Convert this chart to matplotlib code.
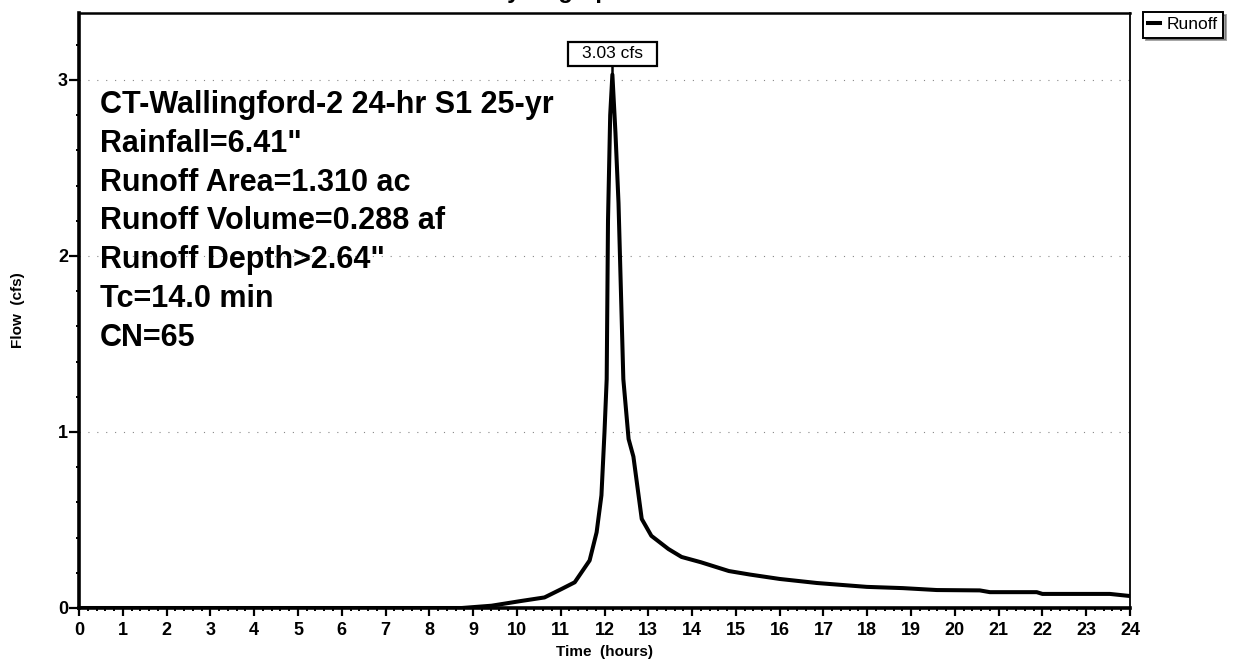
import numpy as np
import matplotlib.pyplot as plt
from matplotlib.ticker import MultipleLocator
from matplotlib.patches import Rectangle

# Runoff hydrograph values (hours, cfs)
time_hr = [0, 8.74, 9.42, 10.1, 10.63, 11.02, 11.32, 11.66, 11.82, 11.93, 12.0,
           12.05, 12.08, 12.13, 12.18, 12.25, 12.32, 12.43, 12.55, 12.66, 12.85,
           13.07, 13.46, 13.76, 14.2, 14.84, 15.32, 16.0, 16.85, 17.99, 18.81,
           19.59, 20.57, 20.8, 21.87, 22.0, 23.54, 24.0]
flow_cfs = [0, 0, 0.013, 0.04, 0.06, 0.108, 0.146, 0.27, 0.43, 0.64, 1.0,
            1.3, 2.2, 2.8, 3.03, 2.7, 2.3, 1.3, 0.96, 0.86, 0.506,
            0.41, 0.335, 0.29, 0.26, 0.21, 0.19, 0.165, 0.142, 0.12, 0.113,
            0.102, 0.10, 0.09, 0.09, 0.08, 0.08, 0.068]

peak_label = "3.03 cfs"
info_lines = [
    "CT-Wallingford-2 24-hr S1 25-yr",
    "Rainfall=6.41\"",
    "Runoff Area=1.310 ac",
    "Runoff Volume=0.288 af",
    "Runoff Depth>2.64\"",
    "Tc=14.0 min",
    "CN=65",
]
x_ticks = list(range(0, 25))
y_ticks = [0, 1, 2, 3]

plt.rcParams['font.family'] = ['Liberation Sans', 'DejaVu Sans']

W, H = 1257, 667
fig = plt.figure(figsize=(W / 100, H / 100), dpi=100)
# axes box in pixels of the scan: left 79, right 1130, top 13, bottom 608
ax = fig.add_axes([79 / W, 1 - 608 / H, (1130 - 79) / W, (608 - 13) / H])

# faint dotted grid like the scan
for yv in y_ticks[1:]:
    ax.axhline(yv, color='#888888', lw=0.8, ls=(0, (1, 7)), zorder=0)

ax.plot(time_hr, flow_cfs, color='black', lw=2.9, label='Runoff', zorder=3)

ax.set_xlim(0, 24)
ax.set_ylim(0, 3.38)
ax.set_xticks(x_ticks)
ax.set_yticks(y_ticks)
ax.xaxis.set_minor_locator(MultipleLocator(0.2))
ax.yaxis.set_minor_locator(MultipleLocator(0.2))
ax.tick_params(axis='x', which='major', direction='out', length=6, width=1.6,
               labelsize=13, pad=4)
ax.tick_params(axis='y', which='major', direction='out', length=7, width=1.6,
               labelsize=13, pad=1)
ax.tick_params(axis='both', which='minor', direction='out', length=2.5, width=1.4)
for lab in ax.get_xticklabels() + ax.get_yticklabels():
    lab.set_fontweight('bold')

ax.spines['left'].set_linewidth(2.6)
ax.spines['bottom'].set_linewidth(2.6)
ax.spines['top'].set_linewidth(1.8)
ax.spines['right'].set_linewidth(1.3)

ax.set_xlabel("Time  (hours)", fontsize=11, fontweight='bold', labelpad=0)
ax.xaxis.set_label_coords((604 - 79) / (1130 - 79), -(652 - 608) / (608 - 13))
ax.xaxis.label.set_va('center')
ax.set_ylabel("Flow  (cfs)", fontsize=11, fontweight='bold')
ax.yaxis.set_label_coords(-(79 - 18) / (1130 - 79), 0.5)
ax.yaxis.label.set_va('center')

# storm info block, one line every ~38.8 px starting at y=113 (baseline)
for i, line in enumerate(info_lines):
    base_px = 113 + 38.8 * i
    fig.text(100 / W, 1 - base_px / H, line, fontsize=22, fontweight='bold',
             ha='left', va='baseline', zorder=4)

# peak label: boxed text above the peak, joined by a short line
ipk = int(np.argmax(flow_cfs))
label_y = (608 - 54) / 176.0
ax.text(time_hr[ipk], label_y, peak_label, ha='center', va='center',
        fontsize=12.5, zorder=6)
px_per_hr = (1130 - 79) / 24.0
box_w = 89 / px_per_hr
box_h = 24 / 176.0
ax.add_patch(Rectangle((time_hr[ipk] - box_w / 2, label_y - box_h / 2), box_w, box_h,
                       fc='white', ec='black', lw=1.6, zorder=5, clip_on=False))
ax.plot([time_hr[ipk], time_hr[ipk]], [flow_cfs[ipk], label_y - box_h / 2],
        color='black', lw=1.8, zorder=4)

leg = ax.legend(loc='upper left', bbox_to_anchor=(1143 / W, 1 - 12 / H),
                bbox_transform=fig.transFigure, fontsize=12.5, handlelength=0.7,
                handletextpad=0.35, borderpad=0.3, fancybox=False, shadow=True,
                frameon=True, borderaxespad=0)
leg.get_frame().set_edgecolor('black')
leg.get_frame().set_linewidth(1.4)

# title, cut off by the top edge of the scan (only descenders show)
fig.text(558 / W, 1 + 2 / H, "Hydrograph", ha='center', va='baseline',
         fontsize=17, fontweight='bold')

fig.savefig("out.png", dpi=100)
